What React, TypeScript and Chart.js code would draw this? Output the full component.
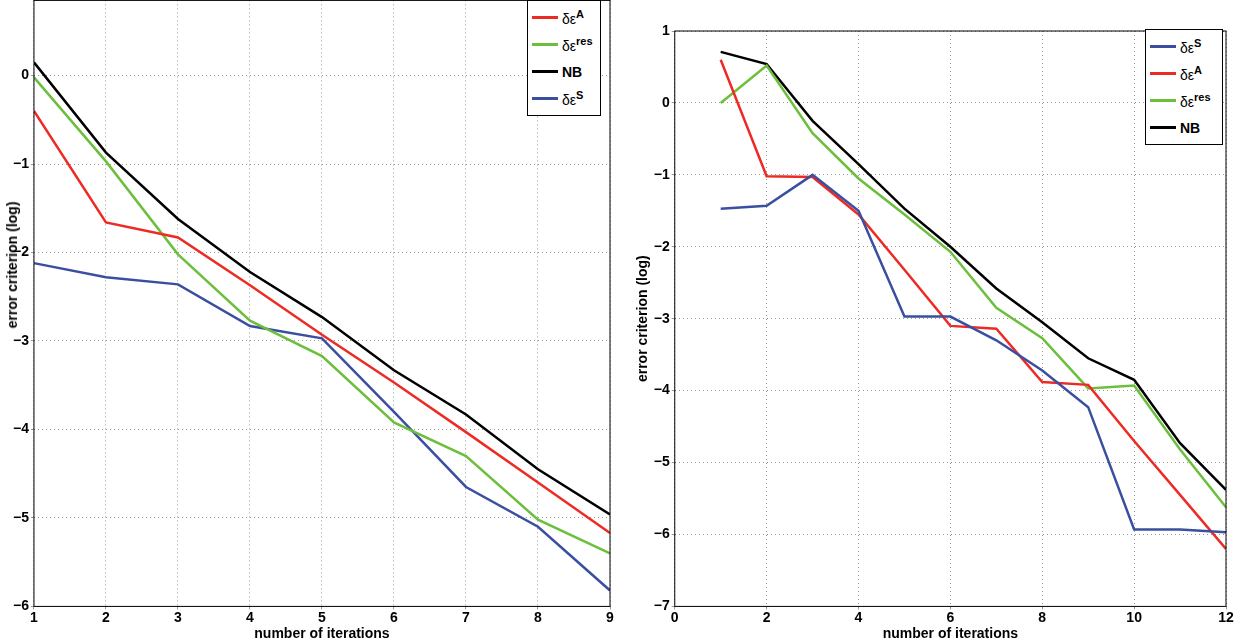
import React, { useEffect, useRef } from "react";
import { Chart, registerables } from "chart.js";
Chart.register(...registerables);

const leftX = [1, 2, 3, 4, 5, 6, 7, 8, 9];
const leftA = [-0.4, -1.66, -1.83, -2.37, -2.93, -3.47, -4.03, -4.6, -5.17];
const leftRes = [-0.02, -0.97, -2.02, -2.77, -3.17, -3.92, -4.3, -5.02, -5.4];
const leftNB = [0.15, -0.87, -1.62, -2.22, -2.73, -3.33, -3.83, -4.45, -4.96];
const leftS = [-2.12, -2.28, -2.36, -2.83, -2.97, -3.8, -4.65, -5.1, -5.82];

const rightX = [1, 2, 3, 4, 5, 6, 7, 8, 9, 10, 11, 12];
const rightS = [-1.47, -1.43, -1.0, -1.5, -2.97, -2.97, -3.3, -3.72, -4.23, -5.93, -5.93, -5.97];
const rightA = [0.6, -1.02, -1.03, -1.55, -2.32, -3.1, -3.14, -3.88, -3.92, -4.7, -5.45, -6.2];
const rightRes = [0.0, 0.52, -0.42, -1.05, -1.55, -2.07, -2.85, -3.27, -3.97, -3.93, -4.82, -5.62];
const rightNB = [0.71, 0.54, -0.25, -0.85, -1.47, -2.0, -2.58, -3.05, -3.55, -3.85, -4.73, -5.38];

const RED = "#ee2a24", GREEN = "#6cbf3c", BLACK = "#000000", BLUE = "#3a4fa0";
const FONT = "'Liberation Sans', Arial, sans-serif";

function ds(label: string, xs: number[], ys: number[], color: string) {
  return {
    label, data: xs.map((x, i) => ({ x, y: ys[i] })), borderColor: color,
    backgroundColor: color, borderWidth: 2.5, pointRadius: 0, tension: 0,
  };
}

const frame = {
  id: "frame",
  afterDraw(c: any) {
    const { ctx, chartArea: a } = c;
    ctx.save(); ctx.strokeStyle = "#000"; ctx.lineWidth = 1; ctx.setLineDash([]);
    ctx.strokeRect(a.left, a.top, a.right - a.left, a.bottom - a.top);
    ctx.restore();
  },
};

function opts(xmin: number, xmax: number, xstep: number, ymin: number, ymax: number, pad: any, yTitle: boolean) {
  const tickFont = { family: FONT, size: 14, weight: "bold" as const };
  const grid = { color: "#9a9a9a", lineWidth: 1, drawTicks: true, tickLength: 3 };
  return {
    animation: false as const, responsive: false, layout: { padding: pad },
    plugins: { legend: { display: false }, tooltip: { enabled: false } },
    scales: {
      x: {
        type: "linear" as const, min: xmin, max: xmax,
        ticks: { stepSize: xstep, color: "#000", font: tickFont, padding: 0 },
        grid: grid, border: { display: false, dash: [1, 3] },
        title: { display: true, text: "number of iterations", color: "#000", font: tickFont, padding: 0 },
      },
      y: {
        type: "linear" as const, min: ymin, max: ymax,
        afterBuildTicks: (s: any) => { s.ticks = s.ticks.filter((t: any) => Number.isInteger(t.value)); },
        ticks: { stepSize: 1, color: "#000", font: tickFont, padding: 2, callback: (v: any) => String(v).replace("-", "\u2212") },
        grid: grid, border: { display: false, dash: [1, 3] },
        title: { display: yTitle, text: "error criterion (log)", color: "#000", font: tickFont, padding: 0 },
      },
    },
  };
}

function Legend({ items, style }: { items: [string, string, string | null][]; style: any }) {
  return (
    <div style={{ position: "absolute", background: "#fff", border: "1px solid #000", fontFamily: FONT, fontSize: 14, fontWeight: "bold", padding: "3px 6px 3px 4px", ...style }}>
      {items.map(([c, base, sup], i) => (
        <div key={i} style={{ display: "flex", alignItems: "center", height: 27 }}>
          <div style={{ width: 26, height: 2.5, background: c, marginRight: 4 }} />
          <span style={{ fontWeight: sup ? "normal" : "bold" }}>{base}{sup && <sup style={{ fontSize: 11, fontWeight: "bold" }}>{sup}</sup>}</span>
        </div>
      ))}
    </div>
  );
}

export default function App() {
  const l = useRef<HTMLCanvasElement>(null);
  const r = useRef<HTMLCanvasElement>(null);
  useEffect(() => {
    const c1 = new Chart(l.current!, {
      type: "line",
      data: { datasets: [ds("A", leftX, leftA, RED), ds("res", leftX, leftRes, GREEN), ds("NB", leftX, leftNB, BLACK), ds("S", leftX, leftS, BLUE)] },
      options: opts(1, 9, 1, -6, 0.85, { left: 17, right: 10, top: 0, bottom: 0 }, false) as any,
      plugins: [frame],
    });
    const c2 = new Chart(r.current!, {
      type: "line",
      data: { datasets: [ds("S", rightX, rightS, BLUE), ds("A", rightX, rightA, RED), ds("res", rightX, rightRes, GREEN), ds("NB", rightX, rightNB, BLACK)] },
      options: opts(0, 12, 2, -7, 1, { left: 15, right: 9, top: 31, bottom: 0 }, true) as any,
      plugins: [frame],
    });
    return () => { c1.destroy(); c2.destroy(); };
  }, []);
  return (
    <div style={{ position: "fixed", left: 0, top: 0, width: 1235, height: 643, background: "#fff", overflow: "hidden" }}>
      <canvas ref={l} width={626} height={653} style={{ position: "absolute", left: -6, top: -10, width: 626, height: 653 }} />
      <canvas ref={r} width={615} height={643} style={{ position: "absolute", left: 620, top: 0, width: 615, height: 643 }} />
      <div style={{ position: "absolute", left: 12, top: 265, transform: "translate(-50%,-50%) rotate(-90deg)", whiteSpace: "nowrap", fontFamily: FONT, fontSize: 14, fontWeight: "bold" }}>error criterion (log)</div>
      <Legend style={{ left: 527, top: 0, width: 62 }} items={[[RED, "δε", "A"], [GREEN, "δε", "res"], [BLACK, "NB", null], [BLUE, "δε", "S"]]} />
      <Legend style={{ left: 1145, top: 29, width: 66 }} items={[[BLUE, "δε", "S"], [RED, "δε", "A"], [GREEN, "δε", "res"], [BLACK, "NB", null]]} />
    </div>
  );
}
